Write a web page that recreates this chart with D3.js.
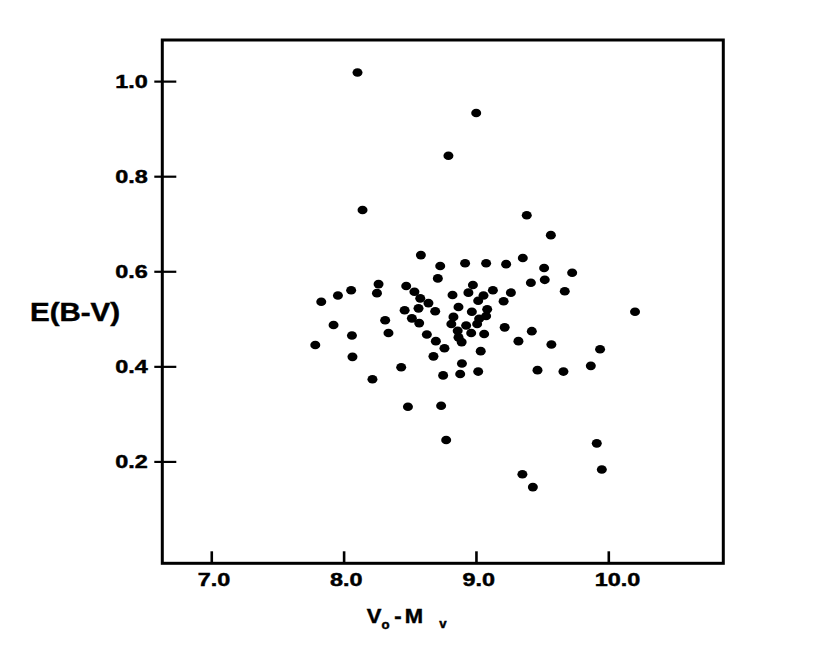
<!DOCTYPE html>
<html>
<head>
<meta charset="utf-8">
<script src="https://cdn.jsdelivr.net/npm/d3@7"></script>
<style>
  html, body { margin: 0; padding: 0; background: #fff; }
  svg { display: block; }
</style>
</head>
<body>
<div id="chart"></div>
<script>
// ---- data ----
const distanceModulus = [
  8.105, 9.002, 8.792, 8.143, 9.384, 9.566, 8.584, 8.730, 8.918, 9.077,
  9.228, 9.354, 9.515, 9.727, 8.712, 9.415, 9.520, 8.264, 8.473, 8.057,
  7.957, 8.252, 7.831, 9.671, 8.461, 8.314, 7.924, 8.339, 8.063, 7.786,
  8.067, 8.435, 8.218, 8.486, 8.737, 8.775, 8.535, 8.579, 8.641, 8.566,
  8.692, 8.516, 8.571, 8.629, 8.697, 8.762, 8.679, 8.823, 8.943, 8.977,
  9.057, 9.128, 9.264, 9.209, 8.868, 9.017, 9.085, 8.969, 8.830, 9.024,
  8.814, 8.926, 9.009, 8.862, 8.964, 9.062, 9.217, 8.868, 8.892, 9.321,
  9.036, 9.077, 9.422, 9.570, 9.938, 9.868, 9.465, 9.661, 10.202, 8.894,
  8.752, 8.881, 9.017, 9.351, 9.430, 9.913, 9.951
];
const colorExcess = [
  1.018, 0.933, 0.843, 0.729, 0.718, 0.676, 0.634, 0.611, 0.617, 0.617,
  0.615, 0.628, 0.607, 0.597, 0.585, 0.576, 0.582, 0.573, 0.569, 0.560,
  0.549, 0.554, 0.536, 0.558, 0.518, 0.497, 0.487, 0.470, 0.465, 0.445,
  0.420, 0.398, 0.373, 0.315, 0.317, 0.245, 0.557, 0.543, 0.533, 0.522,
  0.516, 0.501, 0.491, 0.467, 0.453, 0.438, 0.421, 0.550, 0.555, 0.571,
  0.549, 0.560, 0.555, 0.537, 0.525, 0.538, 0.520, 0.515, 0.504, 0.500,
  0.489, 0.486, 0.489, 0.475, 0.470, 0.468, 0.482, 0.461, 0.451, 0.453,
  0.432, 0.506, 0.474, 0.446, 0.436, 0.401, 0.392, 0.389, 0.515, 0.406,
  0.381, 0.384, 0.389, 0.173, 0.146, 0.238, 0.183
];
const xTickValues = [7.0, 8.0, 9.0, 10.0];
const yTickValues = [0.2, 0.4, 0.6, 0.8, 1.0];
const xDomain = [6.63, 10.869];
const yDomain = [-0.0143, 1.0865];

// ---- layout ----
const W = 818, H = 654;
const plotL = 162.3, plotR = 723.3, plotT = 40, plotB = 563.3;
const FONT = "'Liberation Sans', Arial, sans-serif";
const INK = "#000";

const svg = d3.select("#chart").append("svg")
  .attr("width", W).attr("height", H)
  .attr("viewBox", `0 0 ${W} ${H}`);
svg.append("rect").attr("width", W).attr("height", H).attr("fill", "#fff");

const x = d3.scaleLinear().domain(xDomain).range([plotL, plotR]);
const y = d3.scaleLinear().domain(yDomain).range([plotB, plotT]);

// frame
svg.append("rect")
  .attr("x", plotL).attr("y", plotT)
  .attr("width", plotR - plotL).attr("height", plotB - plotT)
  .attr("fill", "none").attr("stroke", "#000").attr("stroke-width", 3);

function boldText(sel) {
  return sel.attr("fill", INK).attr("stroke", INK).attr("stroke-width", 0.45)
    .style("font-family", FONT).style("font-weight", "bold");
}

// x axis (ticks point inward)
const xAxis = d3.axisBottom(x).tickValues(xTickValues).tickSizeInner(-12).tickSizeOuter(0).tickFormat("");
const gx = svg.append("g").attr("transform", `translate(0,${plotB})`).call(xAxis);
gx.select(".domain").remove();
gx.selectAll(".tick line").attr("stroke", "#000").attr("stroke-width", 2.6);

const labelStretch = 1.3;
gx.selectAll(".tick").append("text")
  .attr("transform", `translate(-14,23) scale(${labelStretch},1)`)
  .attr("text-anchor", "start")
  .call(boldText)
  .style("font-size", "18px")
  .text(d => d3.format(".1f")(d));

// y axis (ticks cross the frame line)
const yAxis = d3.axisLeft(y).tickValues(yTickValues).tickSizeInner(8).tickSizeOuter(0).tickFormat("");
const gy = svg.append("g").attr("transform", `translate(${plotL},0)`).call(yAxis);
gy.select(".domain").remove();
gy.selectAll(".tick line").attr("x1", 14).attr("x2", -8).attr("stroke", "#000").attr("stroke-width", 2.2);
gy.selectAll(".tick").append("text")
  .attr("transform", `translate(-14.5,0) scale(${labelStretch},1)`)
  .attr("text-anchor", "end")
  .attr("dy", "0.36em")
  .call(boldText)
  .style("font-size", "18px")
  .text(d => d3.format(".1f")(d));

// points
svg.append("g").selectAll("ellipse")
  .data(d3.range(distanceModulus.length))
  .join("ellipse")
  .attr("cx", i => x(distanceModulus[i]))
  .attr("cy", i => y(colorExcess[i]))
  .attr("rx", 5).attr("ry", 4.3)
  .attr("fill", "#000");

// y title
svg.append("text")
  .attr("transform", "translate(30,320.7) scale(1.18,1)")
  .call(boldText)
  .style("font-size", "25px")
  .text("E(B-V)");

// x title  V_o - M_v
const xt = svg.append("text")
  .attr("transform", "translate(366.7,623.3) scale(1.1,1)")
  .call(boldText)
  .style("font-size", "20px");
xt.append("tspan").attr("x", 0).attr("y", 0).text("V");
xt.append("tspan").attr("x", 13.5).attr("y", 6).style("font-size", "12px").text("o");
xt.append("tspan").attr("x", 25).attr("y", 0).text("-");
xt.append("tspan").attr("x", 34.5).attr("y", 0).text("M");
xt.append("tspan").attr("x", 66).attr("y", 5).style("font-size", "12px").text("v");
</script>
</body>
</html>
